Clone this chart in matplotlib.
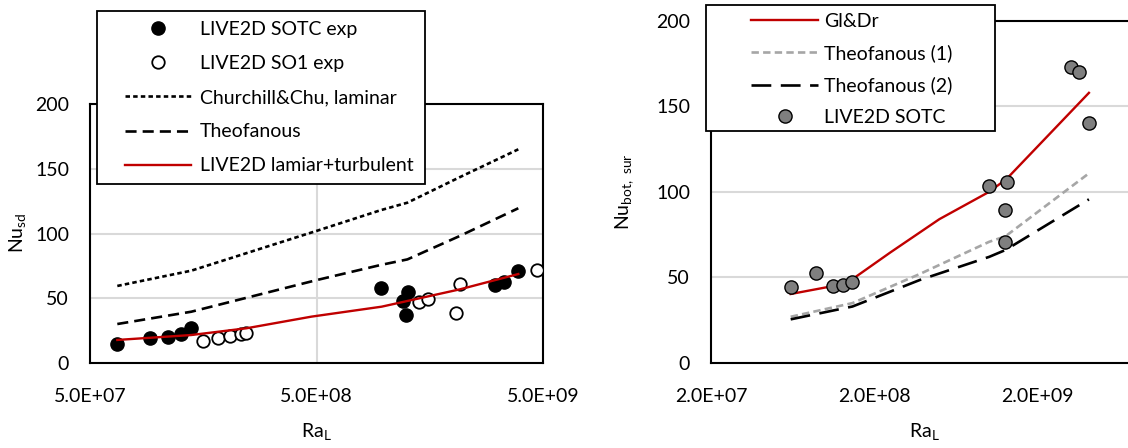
import numpy as np
import matplotlib
matplotlib.use('Agg')
import matplotlib.pyplot as plt
from matplotlib.patches import Rectangle

plt.rcParams['font.family'] = ['Lato', 'DejaVu Sans']
plt.rcParams['mathtext.default'] = 'regular'
plt.rcParams['font.size'] = 14

# ---- left panel data (Nu_sd vs Ra_L)
sotc_x = [6.6e7, 9.17e7, 1.10e8, 1.26e8, 1.40e8, 9.6e8, 1.21e9, 1.27e9, 1.24e9, 3.07e9, 3.36e9, 3.89e9]
sotc_y = [14.7, 19.1, 20.3, 22.4, 27.3, 57.7, 47.6, 54.6, 37.1, 60.2, 62.8, 71.3]
so1_x = [1.58e8, 1.84e8, 2.07e8, 2.31e8, 2.45e8, 1.42e9, 1.56e9, 2.14e9, 2.07e9, 4.69e9]
so1_y = [17.0, 19.1, 20.8, 22.1, 23.4, 47.4, 49.4, 61.0, 38.4, 71.8]
corr_x = [6.6e7, 1.4e8, 5.0e8, 9.6e8, 1.26e9, 2.14e9, 3.89e9]
churchill_y = [59.5, 71.3, 102.0, 118.0, 123.8, 143.4, 165.0]
theo_y = [30.1, 39.6, 64.0, 75.7, 80.0, 98.0, 119.5]
live_x = [6.6e7, 1.4e8, 2.45e8, 4.75e8, 9.7e8, 2.15e9, 3.89e9]
live_y = [17.8, 21.6, 26.8, 35.8, 43.5, 56.9, 68.7]
left_ticks = [5e7, 5e8, 5e9]
left_ticklabels = ['5.0E+07', '5.0E+08', '5.0E+09']

# ---- right panel data (Nu_bot,sur vs Ra_L)
sotc2_x = [6.15e7, 8.77e7, 1.11e8, 1.28e8, 1.47e8, 1.01e9, 1.29e9, 1.27e9, 1.26e9, 3.21e9, 3.56e9, 4.12e9]
sotc2_y = [44.6, 52.7, 45.0, 45.5, 47.5, 103.4, 105.9, 89.3, 70.5, 173.0, 170.1, 140.3]
gldr_x = [6.15e7, 1.28e8, 1.47e8, 2.5e8, 5.0e8, 1.01e9, 1.29e9, 4.12e9]
gldr_y = [40.3, 46.0, 49.0, 64.5, 84.0, 100.0, 107.5, 157.8]
theo2_x = [6.15e7, 1.47e8, 3.8e8, 1.01e9, 1.27e9, 4.12e9]
theo1_y = [27.0, 35.0, 52.0, 70.8, 74.0, 110.8]
theo2_y = [25.5, 33.0, 48.5, 62.0, 66.0, 95.6]
right_ticks = [2e7, 2e8, 2e9]
right_ticklabels = ['2.0E+07', '2.0E+08', '2.0E+09']

W, H = 1128, 448
fig = plt.figure(figsize=(W / 100, H / 100), dpi=100)

def px(x0, y0, x1, y1):
    return [x0 / W, 1 - y1 / H, (x1 - x0) / W, (y1 - y0) / H]

red = '#c00000'
grid_c = '#d9d9d9'

# left
ax1 = fig.add_axes(px(90, 104, 543, 363))
ax1.plot(sotc_x, sotc_y, 'o', color='black', ms=9.5, label='LIVE2D SOTC exp', zorder=3)
ax1.plot(so1_x, so1_y, 'o', mfc='white', mec='black', mew=1.3, ms=9, label='LIVE2D SO1 exp', zorder=3)
ax1.plot(corr_x, churchill_y, color='black', lw=1.9, dashes=(1.7, 1.2), label='Churchill&Chu, laminar', zorder=4)
ax1.plot(corr_x, theo_y, color='black', lw=1.9, dashes=(4.2, 2.3), label='Theofanous', zorder=4)
ax1.plot(live_x, live_y, color=red, lw=1.7, label='LIVE2D lamiar+turbulent', zorder=4)
ax1.set_xscale('log')
ax1.set_xlim(5e7, 5e9)
ax1.set_ylim(0, 200)
ax1.set_xticks(left_ticks)
ax1.set_xticklabels(left_ticklabels)
ax1.xaxis.set_minor_locator(matplotlib.ticker.NullLocator())
ax1.set_yticks([0, 50, 100, 150, 200])
ax1.grid(True, color=grid_c, lw=1.5)
ax1.set_axisbelow(True)

# right
ax2 = fig.add_axes(px(711, 20.6, 1201, 363))
ax2.plot(gldr_x, gldr_y, color=red, lw=1.7, label='Gl&Dr', zorder=3)
ax2.plot(theo2_x, theo1_y, color='#a6a6a6', lw=1.9, dashes=(2.8, 1.6), label='Theofanous (1)', zorder=3)
ax2.plot(theo2_x, theo2_y, color='black', lw=1.9, dashes=(7.5, 3.6), label='Theofanous (2)', zorder=3)
ax2.plot(sotc2_x, sotc2_y, 'o', mfc='#7f7f7f', mec='black', mew=1.0, ms=9.5, label='LIVE2D SOTC', zorder=4)
ax2.set_xscale('log')
ax2.set_xlim(2e7, 2e10)
ax2.set_ylim(0, 200)
ax2.set_xticks(right_ticks)
ax2.set_xticklabels(right_ticklabels)
ax2.xaxis.set_minor_locator(matplotlib.ticker.NullLocator())
ax2.set_yticks([0, 50, 100, 150, 200])
ax2.yaxis.grid(True, color=grid_c, lw=1.5)
ax2.set_axisbelow(True)

for ax in (ax1, ax2):
    for s in ax.spines.values():
        s.set_linewidth(1.5)
        s.set_color('black')
    ax.tick_params(length=0, labelsize=14)
    ax.tick_params(axis='y', pad=15)
    ax.tick_params(axis='x', pad=18)

# axis titles
fig.text(316 / W, 1 - 431 / H, r'Ra$_L$', ha='center', va='center', fontsize=14)
fig.text(924 / W, 1 - 431 / H, r'Ra$_L$', ha='center', va='center', fontsize=14)
fig.text(18 / W, 1 - 233 / H, r'Nu$_{sd}$', ha='center', va='center', rotation=90, fontsize=14)
fig.text(625 / W, 1 - 192 / H, r'Nu$_{bot,\ sur}$', ha='center', va='center', rotation=90, fontsize=14)

# legend frames
fig.patches.append(Rectangle((97 / W, 1 - 184 / H), 328 / W, 173.3 / H, transform=fig.transFigure,
                             facecolor='white', edgecolor='black', lw=1.3, zorder=3))
fig.patches.append(Rectangle((706 / W, 1 - 131 / H), 289 / W, 125.7 / H, transform=fig.transFigure,
                             facecolor='white', edgecolor='black', lw=1.3, zorder=3))

h1, l1 = ax1.get_legend_handles_labels()
fig.legend(h1, l1, loc='upper left', bbox_to_anchor=(125 / W, 1 - 21 / H), frameon=False,
           borderpad=0, borderaxespad=0, handlelength=3.4, handletextpad=0.46,
           labelspacing=0.88, fontsize=14, numpoints=1)
h2, l2 = ax2.get_legend_handles_labels()
fig.legend(h2, l2, loc='upper left', bbox_to_anchor=(751 / W, 1 - 13 / H), frameon=False,
           borderpad=0, borderaxespad=0, handlelength=3.45, handletextpad=0.3,
           labelspacing=0.74, fontsize=14, numpoints=1)

fig.savefig('out.png', dpi=100)
